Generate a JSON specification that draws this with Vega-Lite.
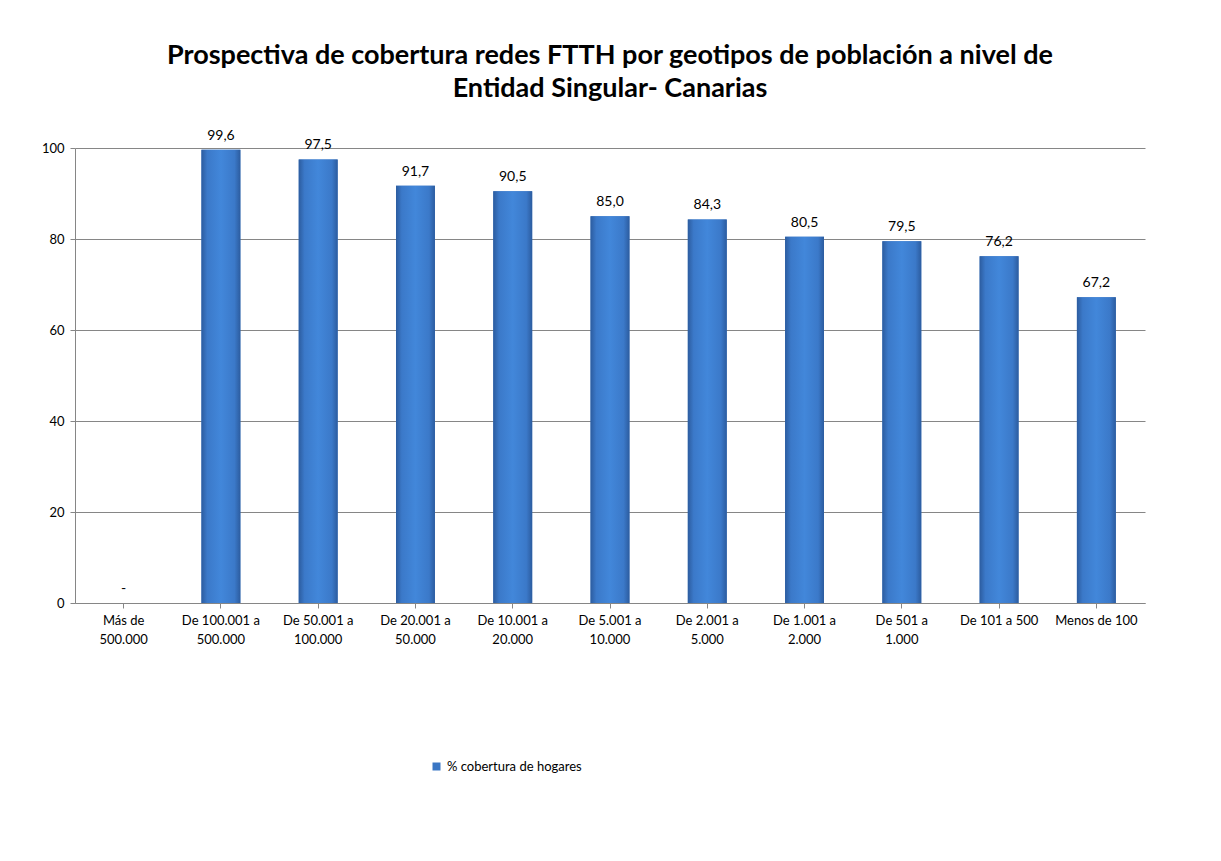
{
  "$schema": "https://vega.github.io/schema/vega-lite/v6.json",
  "width": 1070,
  "height": 455,
  "autosize": "none",
  "padding": {"left": 75, "top": 148, "right": 76, "bottom": 258},
  "background": "white",
  "title": {
    "text": ["Prospectiva de cobertura redes FTTH por geotipos de población a nivel de", "Entidad Singular- Canarias"],
    "font": "Lato",
    "fontSize": 27,
    "fontWeight": "bold",
    "color": "#000000",
    "lineHeight": 33,
    "anchor": "middle",
    "offset": 26
  },
  "data": {
    "values": [
      {"geotipo": "Más de 500.000", "cobertura": 0, "serie": "% cobertura de hogares"},
      {"geotipo": "De 100.001 a 500.000", "cobertura": 99.6, "serie": "% cobertura de hogares"},
      {"geotipo": "De 50.001 a 100.000", "cobertura": 97.5, "serie": "% cobertura de hogares"},
      {"geotipo": "De 20.001 a 50.000", "cobertura": 91.7, "serie": "% cobertura de hogares"},
      {"geotipo": "De 10.001 a 20.000", "cobertura": 90.5, "serie": "% cobertura de hogares"},
      {"geotipo": "De 5.001 a 10.000", "cobertura": 85.0, "serie": "% cobertura de hogares"},
      {"geotipo": "De 2.001 a 5.000", "cobertura": 84.3, "serie": "% cobertura de hogares"},
      {"geotipo": "De 1.001 a 2.000", "cobertura": 80.5, "serie": "% cobertura de hogares"},
      {"geotipo": "De 501 a 1.000", "cobertura": 79.5, "serie": "% cobertura de hogares"},
      {"geotipo": "De 101 a 500", "cobertura": 76.2, "serie": "% cobertura de hogares"},
      {"geotipo": "Menos de 100", "cobertura": 67.2, "serie": "% cobertura de hogares"}
    ]
  },
  "transform": [
    {"calculate": "datum.cobertura == 0 ? '-' : replace(format(datum.cobertura, '.1f'), '.', ',')", "as": "etiqueta"}
  ],
  "encoding": {
    "x": {
      "field": "geotipo",
      "type": "nominal",
      "sort": null,
      "scale": {"paddingInner": 0.6, "paddingOuter": 0.3},
      "axis": {
        "title": null,
        "labelAngle": 0,
        "labelFont": "Lato",
        "labelFontSize": 13,
        "labelColor": "#000000",
        "labelLineHeight": 19,
        "labelPadding": 6,
        "labelExpr": "datum.value == 'De 101 a 500' || datum.value == 'Menos de 100' ? datum.value : [substring(datum.value, 0, lastindexof(datum.value, ' ')), substring(datum.value, lastindexof(datum.value, ' ') + 1)]",
        "tickColor": "#868686",
        "tickSize": 5,
        "domainColor": "#868686",
        "grid": false
      }
    },
    "y": {
      "field": "cobertura",
      "type": "quantitative",
      "scale": {"domain": [0, 100], "nice": false},
      "axis": {
        "title": null,
        "values": [0, 20, 40, 60, 80, 100],
        "labelFont": "Lato",
        "labelFontSize": 13,
        "labelColor": "#000000",
        "labelPadding": 6,
        "tickColor": "#868686",
        "tickSize": 5,
        "domainColor": "#868686",
        "gridColor": "#868686",
        "gridWidth": 1
      }
    }
  },
  "layer": [
    {
      "mark": {"type": "bar"},
      "encoding": {
        "color": {
          "field": "serie",
          "type": "nominal",
          "scale": {"range": ["#3a76c4"]},
          "legend": {
            "title": null,
            "orient": "none",
            "legendX": 355,
            "legendY": 612,
            "symbolType": "square",
            "symbolSize": 64,
            "labelFont": "Lato",
            "labelFontSize": 13,
            "labelColor": "#000000"
          }
        }
      }
    },
    {
      "mark": {
        "type": "bar",
        "fill": {
          "gradient": "linear",
          "x1": 0, "y1": 0, "x2": 1, "y2": 0,
          "stops": [
            {"offset": 0, "color": "#2c5c9f"},
            {"offset": 0.15, "color": "#3b79c9"},
            {"offset": 0.5, "color": "#4287da"},
            {"offset": 0.85, "color": "#3b79c9"},
            {"offset": 1, "color": "#2c5c9f"}
          ]
        }
      }
    },
    {
      "mark": {"type": "text", "baseline": "bottom", "dy": -7, "font": "Lato", "fontSize": 14, "color": "#000000"},
      "encoding": {"text": {"field": "etiqueta", "type": "nominal"}}
    }
  ],
  "config": {"view": {"stroke": null}}
}
